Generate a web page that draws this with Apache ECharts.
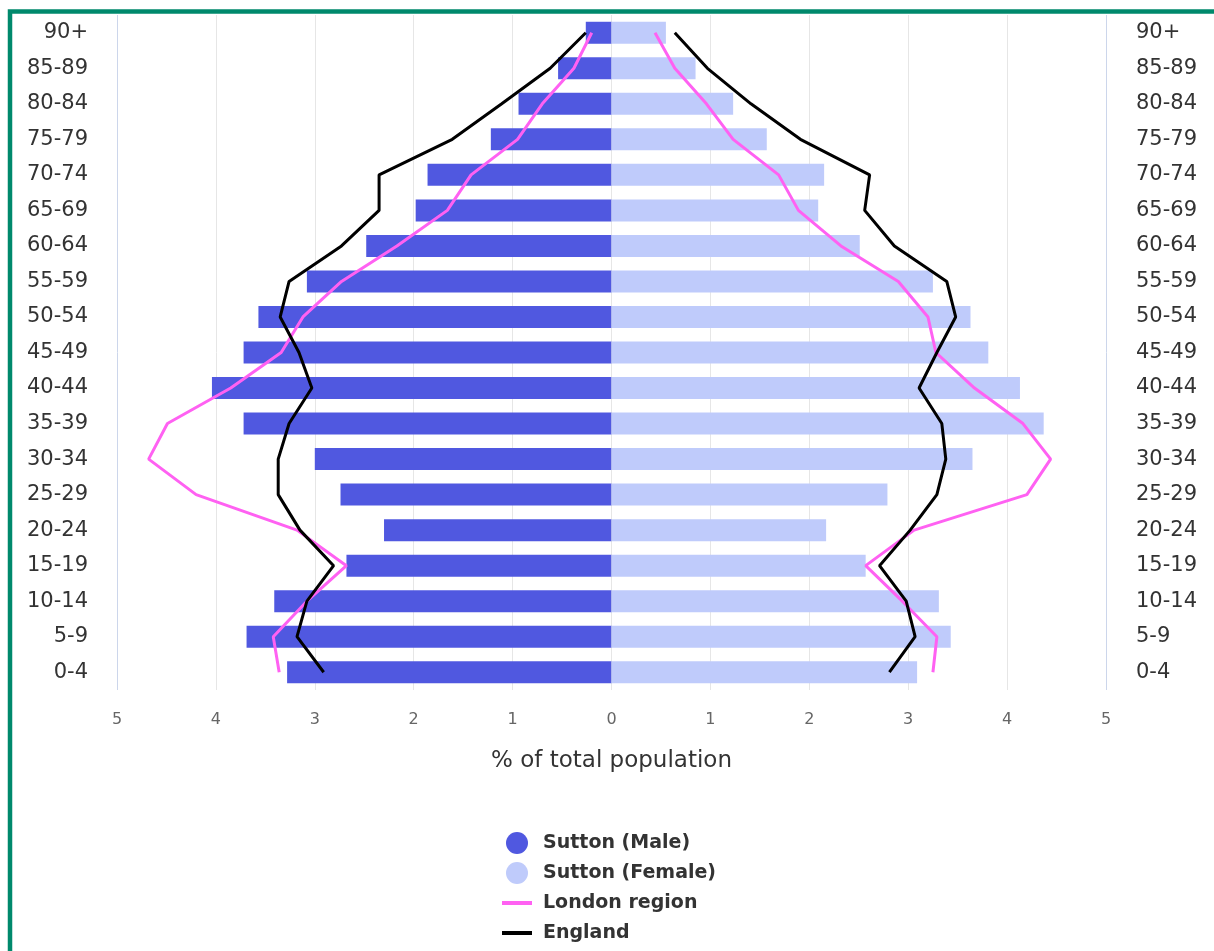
<!DOCTYPE html>
<html>
<head>
<meta charset="utf-8">
<script src="https://cdn.jsdelivr.net/npm/echarts@6/dist/echarts.min.js"></script>
<style>
html,body{margin:0;padding:0;background:#fff;}
#chart{width:1214px;height:951px;}
</style>
</head>
<body>
<div id="chart"></div>
<script>
// Categories, bottom to top
const ageGroups = ['0-4','5-9','10-14','15-19','20-24','25-29','30-34','35-39','40-44','45-49','50-54','55-59','60-64','65-69','70-74','75-79','80-84','85-89','90+'];
const suttonMale   = [3.28,3.69,3.41,2.68,2.30,2.74,3.00,3.72,4.04,3.72,3.57,3.08,2.48,1.98,1.86,1.22,0.94,0.54,0.26];
const suttonFemale = [3.09,3.43,3.31,2.57,2.17,2.79,3.65,4.37,4.13,3.81,3.63,3.25,2.51,2.09,2.15,1.57,1.23,0.85,0.55];
const londonMale   = [3.36,3.42,3.08,2.68,3.18,4.20,4.68,4.49,3.85,3.34,3.12,2.73,2.17,1.66,1.42,0.95,0.70,0.38,0.20];
const londonFemale = [3.25,3.29,2.94,2.57,3.06,4.20,4.44,4.16,3.67,3.28,3.20,2.90,2.32,1.89,1.69,1.23,0.96,0.64,0.44];
const englandMale  = [2.91,3.18,3.08,2.81,3.15,3.37,3.37,3.26,3.03,3.16,3.35,3.26,2.73,2.35,2.35,1.61,1.11,0.62,0.26];
const englandFemale= [2.81,3.07,2.98,2.71,3.02,3.29,3.38,3.34,3.11,3.29,3.48,3.39,2.86,2.56,2.61,1.91,1.41,0.97,0.64];
const xTicks = [-5,-4,-3,-2,-1,0,1,2,3,4,5];

const FONT = 'DejaVu Sans';
const neg = a => a.map(v => -v);
const lineIcon = 'path://M0,0L0.01,0M0,9L30,9L30,13L0,13ZM29.99,22L30,22';

const chart = echarts.init(document.getElementById('chart'), null, {renderer:'canvas'});
const option = {
  animation:false,
  backgroundColor:'#fff',
  textStyle:{fontFamily:FONT},
  grid:{left:117, right:108, top:15, bottom:261, containLabel:false},
  xAxis:{
    type:'value', min:xTicks[0], max:xTicks[xTicks.length-1], interval:1,
    name:'% of total population', nameLocation:'middle', nameGap:60,
    nameTextStyle:{fontFamily:FONT, fontSize:23, color:'#333'},
    axisLine:{show:false}, axisTick:{show:false},
    axisLabel:{formatter:v=>String(Math.abs(v)), fontFamily:FONT, fontSize:16, color:'#666', margin:22},
    splitLine:{show:true, lineStyle:{width:1, color:['#ccd6eb','#e6e6e6','#e6e6e6','#e6e6e6','#e6e6e6','#e6e6e6','#e6e6e6','#e6e6e6','#e6e6e6','#e6e6e6','#ccd6eb']}}
  },
  yAxis:[
    {type:'category', data:ageGroups, position:'left', axisLine:{show:false}, axisTick:{show:false},
     axisLabel:{fontFamily:FONT, fontSize:21, color:'#333', margin:29}},
    {type:'category', data:ageGroups, position:'right', axisLine:{show:false}, axisTick:{show:false},
     axisLabel:{fontFamily:FONT, fontSize:21, color:'#333', margin:30, align:'left'}}
  ],
  legend:{
    orient:'vertical', left:502, top:832, padding:0, height:118, itemWidth:30, itemHeight:22, itemGap:8,
    textStyle:{fontFamily:FONT, fontSize:19, fontWeight:'bold', color:'#333', lineHeight:22, padding:[0,0,0,6]},
    data:[
      {name:'Sutton (Male)', icon:'circle'},
      {name:'Sutton (Female)', icon:'circle'},
      {name:'London region', icon:lineIcon},
      {name:'England', icon:lineIcon}
    ]
  },
  graphic:[{type:'rect', shape:{x:10, y:11.5, width:1400, height:1200}, style:{fill:'none', stroke:'#00896c', lineWidth:4.5}, silent:true, z:100}],
  series:[
    {name:'Sutton (Male)', type:'bar', stack:'pop', data:neg(suttonMale), barWidth:22, itemStyle:{color:'#5058e0'}},
    {name:'Sutton (Female)', type:'bar', stack:'pop', data:suttonFemale, barWidth:22, itemStyle:{color:'#bfcbfb'}},
    {name:'London region', type:'line', data:neg(londonMale), symbol:'none', lineStyle:{color:'#ff61f2', width:3}, itemStyle:{color:'#ff61f2'}, z:5},
    {name:'London region', type:'line', data:londonFemale, symbol:'none', lineStyle:{color:'#ff61f2', width:3}, itemStyle:{color:'#ff61f2'}, z:5},
    {name:'England', type:'line', data:neg(englandMale), symbol:'none', lineStyle:{color:'#000', width:3}, itemStyle:{color:'#000'}, z:6},
    {name:'England', type:'line', data:englandFemale, symbol:'none', lineStyle:{color:'#000', width:3}, itemStyle:{color:'#000'}, z:6}
  ]
};
chart.setOption(option);
</script>
</body>
</html>
